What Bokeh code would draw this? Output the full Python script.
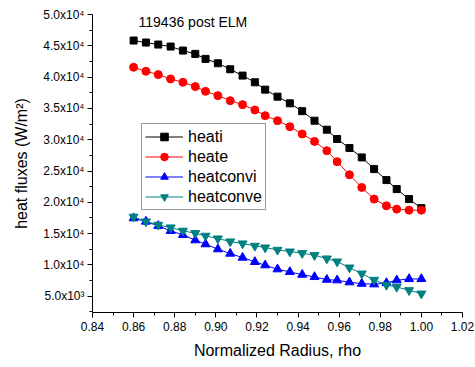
from bokeh.plotting import figure
from bokeh.models import FixedTicker, CustomJSTickFormatter, Label, Legend, LegendItem
from bokeh.embed import file_html
from bokeh.resources import INLINE

rho = [0.860, 0.866, 0.872, 0.878, 0.884, 0.890, 0.895, 0.901, 0.907, 0.913,
       0.919, 0.924, 0.930, 0.936, 0.942, 0.948, 0.954, 0.959, 0.965, 0.971,
       0.977, 0.983, 0.988, 0.994, 1.000]
heati = [45840, 45520, 45200, 44880, 44240, 43710, 42910, 42210, 41250, 40240,
         39170, 38000, 36880, 35810, 34560, 33040, 31600, 30110, 28670, 27170,
         25310, 23550, 22110, 20510, 19070]
heate = [41570, 40930, 40400, 39710, 39170, 38480, 37730, 37040, 36240, 35600,
         34750, 33840, 33040, 32080, 30910, 29730, 28240, 26480, 24400, 22370,
         20510, 19440, 18910, 18750, 18750]
heatconvi = [17470, 16930, 16240, 15440, 14800, 13950, 13310, 12510, 11810, 11170,
             10480, 9950, 9310, 8880, 8450, 8080, 7650, 7550, 7230, 7010,
             6910, 7120, 7550, 7760, 7760]
heatconve = [17680, 16930, 16400, 15970, 15440, 15070, 14640, 14210, 13730, 13410,
             13040, 12770, 12400, 12130, 11870, 11550, 11010, 10530, 9570, 8610,
             7600, 6800, 6480, 5950, 5410]

x_major = [0.84, 0.86, 0.88, 0.90, 0.92, 0.94, 0.96, 0.98, 1.00, 1.02]
x_minor = [0.85, 0.87, 0.89, 0.91, 0.93, 0.95, 0.97, 0.99, 1.01]
y_major = [5000, 10000, 15000, 20000, 25000, 30000, 35000, 40000, 45000, 50000]
y_minor = [2500, 7500, 12500, 17500, 22500, 27500, 32500, 37500, 42500, 47500]

title_text = "119436 post ELM"
FONT = "Liberation Sans"

p = figure(width=475, height=367, output_backend="svg", toolbar_location=None,
           x_range=(0.84, 1.02), y_range=(2400, 50000),
           min_border_left=92, min_border_right=13, min_border_top=14, min_border_bottom=55)
p.outline_line_color = None
p.xgrid.visible = False
p.ygrid.visible = False
p.background_fill_color = "white"
p.border_fill_color = "white"

for ax in (p.xaxis[0], p.yaxis[0]):
    ax.axis_line_color = "black"
    ax.major_tick_line_color = "black"
    ax.minor_tick_line_color = "black"
    ax.major_tick_out = 5
    ax.major_tick_in = 0
    ax.minor_tick_out = 3
    ax.minor_tick_in = 0
    ax.major_label_text_font = FONT
    ax.major_label_text_font_size = "12px"
    ax.major_label_text_color = "black"
    ax.axis_label_text_font = FONT
    ax.axis_label_text_font_size = "16px"
    ax.axis_label_text_font_style = "normal"
    ax.axis_label_text_color = "black"

p.xaxis.ticker = FixedTicker(ticks=x_major, minor_ticks=x_minor)
p.yaxis.ticker = FixedTicker(ticks=y_major, minor_ticks=y_minor)
p.xaxis.formatter = CustomJSTickFormatter(code="return tick.toFixed(2);")
p.yaxis.formatter = CustomJSTickFormatter(code="""
const e = Math.floor(Math.log10(tick) + 1e-9);
const m = tick / Math.pow(10, e);
const sup = {"3": "\u00b3", "4": "\u2074"};
return m.toFixed(1) + "x10" + sup[String(e)];
""")
p.xaxis.major_label_standoff = 4
p.yaxis.major_label_standoff = 3
p.xaxis.axis_label = "Normalized Radius, rho"
p.yaxis.axis_label = "heat fluxes (W/m\u00b2)"
p.xaxis.axis_label_standoff = 8
p.yaxis.axis_label_standoff = 10

series = [
    ("heati", heati, "black", "square", 7),
    ("heate", heate, "red", "circle", 8),
    ("heatconvi", heatconvi, "blue", "triangle", 9),
    ("heatconve", heatconve, "#008080", "inverted_triangle", 9),
]
items = []
for name, ys, col, mk, sz in series:
    l = p.line(rho, ys, line_color=col, line_width=1)
    s = p.scatter(rho, ys, marker=mk, size=sz, fill_color=col, line_color=col)
    items.append(LegendItem(label=name, renderers=[l, s]))

legend = Legend(items=items, location=(49, 102))
legend.label_text_font = FONT
legend.label_text_font_size = "16px"
legend.label_text_color = "black"
legend.glyph_width = 38
legend.glyph_height = 19
legend.label_height = 19
legend.label_standoff = 5
legend.spacing = 1
legend.padding = 3
legend.margin = 0
legend.border_line_color = "#333333"
legend.border_line_width = 1
legend.background_fill_alpha = 1
p.add_layout(legend, "center")

p.add_layout(Label(x=0.8624, y=48770, text=title_text, text_font=FONT,
                   text_font_size="14px", text_baseline="middle", text_color="black"))

open("out.html", "w").write(file_html(p, INLINE))
